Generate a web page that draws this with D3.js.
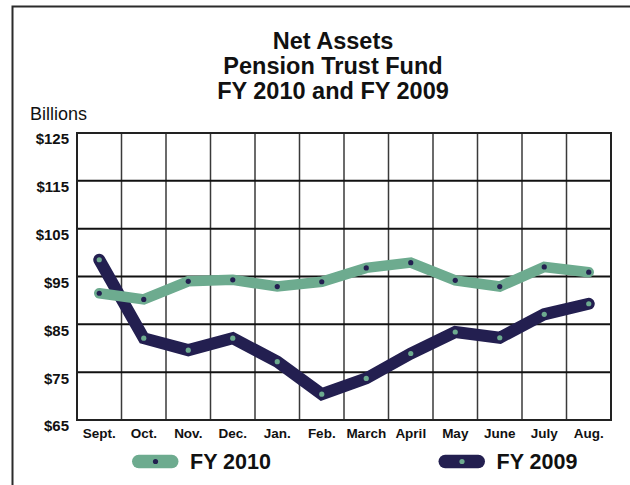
<!DOCTYPE html>
<html>
<head>
<meta charset="utf-8">
<script src="https://cdn.jsdelivr.net/npm/d3@7"></script>
<style>
  body { margin: 0; background: #fff; }
  svg { display: block; font-family: "Liberation Sans", Arial, Helvetica, sans-serif; }
</style>
</head>
<body>
<svg id="chart"></svg>
<script>
var months = ["Sept.", "Oct.", "Nov.", "Dec.", "Jan.", "Feb.", "March", "April", "May", "June", "July", "Aug."];
var fy2010 = [91.5, 90.2, 94.0, 94.3, 92.9, 93.9, 96.8, 97.9, 94.2, 92.9, 97.0, 95.9];
var fy2009 = [98.5, 82.1, 79.6, 82.1, 77.2, 70.4, 73.7, 78.9, 83.4, 82.2, 87.1, 89.3];
var yTicks = [65, 75, 85, 95, 105, 115, 125];
var titleLines = ["Net Assets", "Pension Trust Fund", "FY 2010 and FY 2009"];

var greenColor = "#6dab8f";
var navyColor = "#231f50";

var width = 630, height = 485;
var margin = { top: 133, right: 19, bottom: 65, left: 77 },
  p_width = width - margin.left - margin.right,
  p_height = height - margin.top - margin.bottom;

var svg = d3.select("#chart").attr("width", width).attr("height", height);

// outer frame (runs off the right and bottom of the picture)
svg.append("rect")
  .attr("x", 12.5).attr("y", 6.5)
  .attr("width", 700).attr("height", 600)
  .attr("fill", "none")
  .attr("stroke", "#2b2b2b")
  .attr("stroke-width", 2);

// title
svg.append("g")
  .selectAll("text")
  .data(titleLines)
  .enter()
  .append("text")
  .attr("x", 333)
  .attr("y", function (d, i) { return 49 + i * 25; })
  .attr("text-anchor", "middle")
  .style("font-size", "23.5px")
  .style("font-weight", "bold")
  .attr("fill", "#111")
  .text(function (d) { return d; });

svg.append("text")
  .attr("x", 30)
  .attr("y", 120)
  .style("font-size", "18px")
  .attr("fill", "#111")
  .text("Billions");

var canvas = svg.append("g")
  .attr("transform", "translate(" + margin.left + "," + margin.top + ")");

var x = d3.scaleBand().domain(months).range([0, p_width]);
var y = d3.scaleLinear().domain([65, 125]).range([p_height, 0]);
var cx = function (i) { return x(months[i]) + x.bandwidth() / 2; };

// vertical grid
canvas.selectAll(".vgrid")
  .data(months.slice(1))
  .enter()
  .append("line")
  .attr("class", "vgrid")
  .attr("x1", function (d) { return x(d); })
  .attr("x2", function (d) { return x(d); })
  .attr("y1", 0)
  .attr("y2", p_height)
  .attr("stroke", "#3a3a3a")
  .attr("stroke-width", 1.5);

// horizontal grid
canvas.selectAll(".hgrid")
  .data(yTicks)
  .enter()
  .append("line")
  .attr("class", "hgrid")
  .attr("x1", 0)
  .attr("x2", p_width)
  .attr("y1", function (d) { return y(d); })
  .attr("y2", function (d) { return y(d); })
  .attr("stroke", "#111")
  .attr("stroke-width", 2);

canvas.append("rect")
  .attr("width", p_width)
  .attr("height", p_height)
  .attr("fill", "none")
  .attr("stroke", "#222")
  .attr("stroke-width", 2);

// axes (labels only)
var yAxis = canvas.append("g")
  .call(d3.axisLeft(y).tickValues(yTicks).tickFormat(function (d) { return "$" + d; }).tickSize(0).tickPadding(8));
yAxis.select(".domain").remove();
yAxis.selectAll("text")
  .attr("dy", "0.73em")
  .style("font-size", "15px")
  .style("font-weight", "bold")
  .style("font-family", "'Liberation Sans', Arial, sans-serif")
  .attr("fill", "#111");

var xAxis = canvas.append("g")
  .attr("transform", "translate(0," + p_height + ")")
  .call(d3.axisBottom(x).tickSize(0).tickPadding(8));
xAxis.select(".domain").remove();
xAxis.selectAll("text")
  .style("font-size", "13.5px")
  .style("font-weight", "bold")
  .style("font-family", "'Liberation Sans', Arial, sans-serif")
  .attr("fill", "#111");

var line = d3.line()
  .x(function (d, i) { return cx(i); })
  .y(function (d) { return y(d); });

var series = [
  { name: "FY 2009", values: fy2009, lineColor: navyColor, dotColor: greenColor, lw: 12 },
  { name: "FY 2010", values: fy2010, lineColor: greenColor, dotColor: navyColor, lw: 10.5 }
];

series.forEach(function (s) {
  canvas.append("path")
    .datum(s.values)
    .attr("d", line)
    .attr("fill", "none")
    .attr("stroke", s.lineColor)
    .attr("stroke-width", s.lw)
    .attr("stroke-linecap", "round")
    .attr("stroke-linejoin", "miter");

  canvas.selectAll(null)
    .data(s.values)
    .enter()
    .append("circle")
    .attr("cx", function (d, i) { return cx(i); })
    .attr("cy", function (d) { return y(d); })
    .attr("r", 2.6)
    .attr("fill", s.dotColor);
});

// legend
var legendItems = [
  { name: "FY 2010", lineColor: greenColor, dotColor: navyColor, x: 132 },
  { name: "FY 2009", lineColor: navyColor, dotColor: greenColor, x: 438.5 }
];

var legend = svg.selectAll(".legend")
  .data(legendItems)
  .enter()
  .append("g")
  .attr("class", "legend")
  .attr("transform", function (d) { return "translate(" + d.x + ",461.5)"; });

legend.append("rect")
  .attr("x", 0).attr("y", -6.7)
  .attr("width", 46.5).attr("height", 13.4)
  .attr("rx", 6.7)
  .attr("fill", function (d) { return d.lineColor; });

legend.append("circle")
  .attr("cx", 23.5).attr("cy", 0)
  .attr("r", 2.6)
  .attr("fill", function (d) { return d.dotColor; });

legend.append("text")
  .attr("x", 58)
  .attr("y", 7.5)
  .style("font-size", "21.5px")
  .style("font-weight", "bold")
  .attr("fill", "#111")
  .text(function (d) { return d.name; });
</script>
</body>
</html>
